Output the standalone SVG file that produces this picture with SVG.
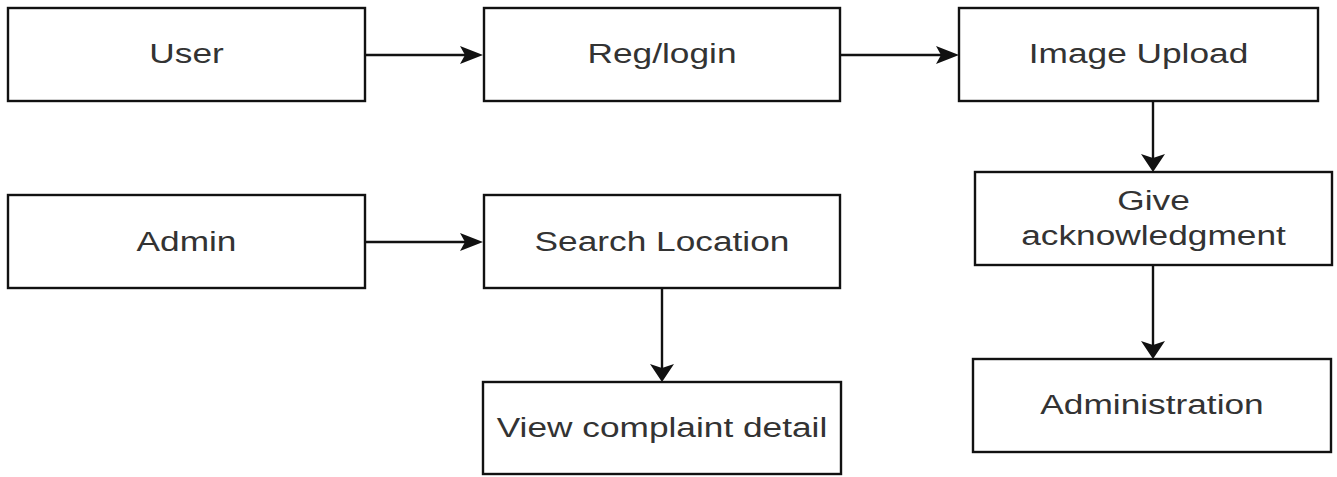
<svg xmlns="http://www.w3.org/2000/svg" width="1337" height="477" viewBox="0 0 1337 477">
<style>
.box{fill:#fff;stroke:#111;stroke-width:2.4}
.lbl{font-family:"Liberation Sans",Arial,sans-serif;font-size:28px;fill:#333;text-anchor:middle}
.edge{stroke:#111;stroke-width:2.4;fill:none}
</style>
<defs>
<marker id="ah" markerUnits="userSpaceOnUse" markerWidth="24" markerHeight="18" viewBox="0 0 23 18" refX="18" refY="9" orient="auto">
<path d="M0,0 L23,9 L0,18 L5,9 Z" fill="#111"/>
</marker>
<marker id="av" markerUnits="userSpaceOnUse" markerWidth="19" markerHeight="24" viewBox="0 0 18 24" refX="13" refY="12" orient="auto">
<path d="M0,0 L18,12 L0,24 L4,12 Z" fill="#111"/>
</marker>
</defs>
<rect width="1337" height="477" fill="#fff"/>
<g id="connectors">
<line class="edge" x1="365" y1="55" x2="478" y2="55" marker-end="url(#ah)"/>
<line class="edge" x1="840" y1="55" x2="954" y2="55" marker-end="url(#ah)"/>
<line class="edge" x1="365" y1="242" x2="478" y2="242" marker-end="url(#ah)"/>
<line class="edge" x1="1153" y1="101" x2="1153" y2="167" marker-end="url(#av)"/>
<line class="edge" x1="1153" y1="265" x2="1153" y2="354" marker-end="url(#av)"/>
<line class="edge" x1="662" y1="288" x2="662" y2="377" marker-end="url(#av)"/>
</g>
<g id="user"><rect class="box" x="8" y="8" width="357" height="93"/><text class="lbl" transform="translate(186.5,63) scale(1.26,1)">User</text></g>
<g id="reglogin"><rect class="box" x="484" y="8" width="356" height="93"/><text class="lbl" transform="translate(662,63) scale(1.26,1)">Reg/login</text></g>
<g id="imageupload"><rect class="box" x="959" y="8" width="359" height="93"/><text class="lbl" transform="translate(1138.5,63) scale(1.26,1)">Image Upload</text></g>
<g id="giveack"><rect class="box" x="975" y="172" width="357" height="93"/><text class="lbl" transform="translate(1153.5,210) scale(1.26,1)">Give</text><text class="lbl" transform="translate(1153.5,245) scale(1.26,1)">acknowledgment</text></g>
<g id="admin"><rect class="box" x="8" y="195" width="357" height="93"/><text class="lbl" transform="translate(186.5,251) scale(1.26,1)">Admin</text></g>
<g id="searchlocation"><rect class="box" x="484" y="195" width="356" height="93"/><text class="lbl" transform="translate(662,251) scale(1.26,1)">Search Location</text></g>
<g id="viewcomplaint"><rect class="box" x="483" y="382" width="358" height="92"/><text class="lbl" transform="translate(662,437) scale(1.26,1)">View complaint detail</text></g>
<g id="administration"><rect class="box" x="973" y="359" width="358" height="93"/><text class="lbl" transform="translate(1152,414) scale(1.26,1)">Administration</text></g>
</svg>
